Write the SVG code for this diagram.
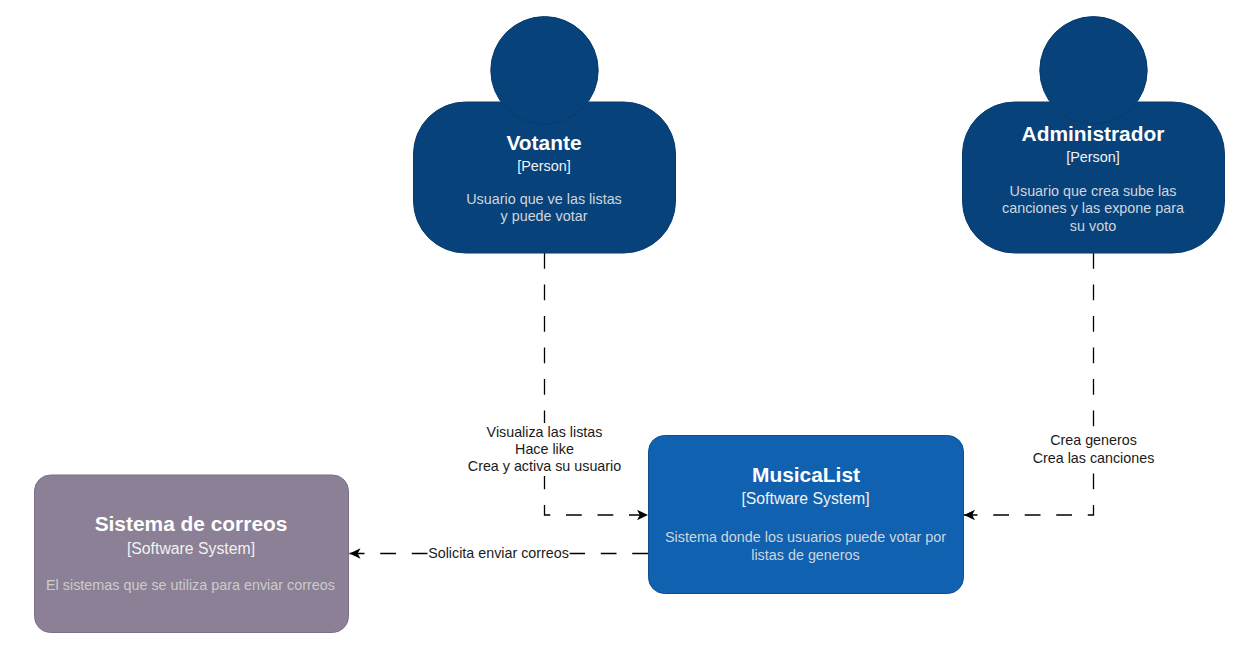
<svg xmlns="http://www.w3.org/2000/svg" width="1254" height="652" viewBox="0 0 1254 652">
<style>
text{font-family:"Liberation Sans",Arial,sans-serif;text-anchor:middle}
.t{font-size:20.9px;font-weight:bold;fill:#fff}
.s{font-size:14.4px;fill:#f2f2f2}
.b{font-size:15.8px;fill:#f2f2f2}
.d{font-size:14.37px;fill:#cfd6de}
.l{font-size:14.3px;fill:#1a1a1a}
.p{fill:#08427b;stroke:#073b6f;stroke-width:1}
.c{fill:none;stroke:#000;stroke-width:1.3;stroke-dasharray:15.75 15.75}
</style>
<defs>
<marker id="a" markerUnits="userSpaceOnUse" markerWidth="12" markerHeight="12" refX="11" refY="6" orient="auto"><path d="M0 .8L11 6L0 11.2L2.8 6Z" fill="#000"/></marker>
</defs>
<rect width="1254" height="652" fill="#fff"/>
<g id="connectors">
<path class="c" d="M544.5 253V515H648" marker-end="url(#a)"/>
<path class="c" d="M1093.5 253V515H964" marker-end="url(#a)"/>
<path class="c" d="M648 553.5H349.500" marker-end="url(#a)"/>
<g class="l">
<rect x="466" y="423" width="158" height="53" fill="#fff"/>
<text x="544.500" y="436.500">Visualiza las listas</text>
<text x="544.500" y="454">Hace like</text>
<text x="544.500" y="471.300">Crea y activa su usuario</text>
<rect x="1030" y="431" width="127" height="36" fill="#fff"/>
<text x="1093.500" y="444.500">Crea generos</text>
<text x="1093.500" y="462.500">Crea las canciones</text>
<rect x="428" y="545" width="141.500" height="17" fill="#fff"/>
<text x="498.500" y="558">Solicita enviar correos</text>
</g>
</g>
<g id="votante">
<rect class="p" x="413.500" y="102" width="262" height="151" rx="52"/>
<circle class="p" cx="544.500" cy="70.300" r="53.700"/>
<text class="t" x="544" y="150">Votante</text>
<text class="s" x="544" y="170.500">[Person]</text>
<text class="d" x="544" y="204.400">Usuario que ve las listas</text>
<text class="d" x="544" y="221.400">y puede votar</text>
</g>
<g id="administrador">
<rect class="p" x="962.500" y="102" width="262" height="151" rx="52"/>
<circle class="p" cx="1093.500" cy="70.300" r="53.700"/>
<text class="t" x="1093" y="141">Administrador</text>
<text class="s" x="1093" y="161.500">[Person]</text>
<text class="d" x="1093" y="196.400">Usuario que crea sube las</text>
<text class="d" x="1093" y="213.400">canciones y las expone para</text>
<text class="d" x="1093" y="231">su voto</text>
</g>
<g id="musicalist">
<rect x="648.500" y="435.500" width="315" height="158" rx="16" fill="#1061b0" stroke="#0d5091"/>
<text class="t" x="806" y="482">MusicaList</text>
<text class="b" x="805.500" y="503.700">[Software System]</text>
<text class="d" x="805.500" y="541.500">Sistema donde los usuarios puede votar por</text>
<text class="d" x="805.500" y="559.500">listas de generos</text>
</g>
<g id="correos">
<rect x="34.500" y="475" width="314" height="157.500" rx="16" fill="#8b8095" stroke="#7d6f8c"/>
<text class="t" x="191" y="531">Sistema de correos</text>
<text class="b" x="191" y="553.700">[Software System]</text>
<text class="d" x="190.500" y="590.400" style="fill:#cccccc">El sistemas que se utiliza para enviar correos</text>
</g>
</svg>
